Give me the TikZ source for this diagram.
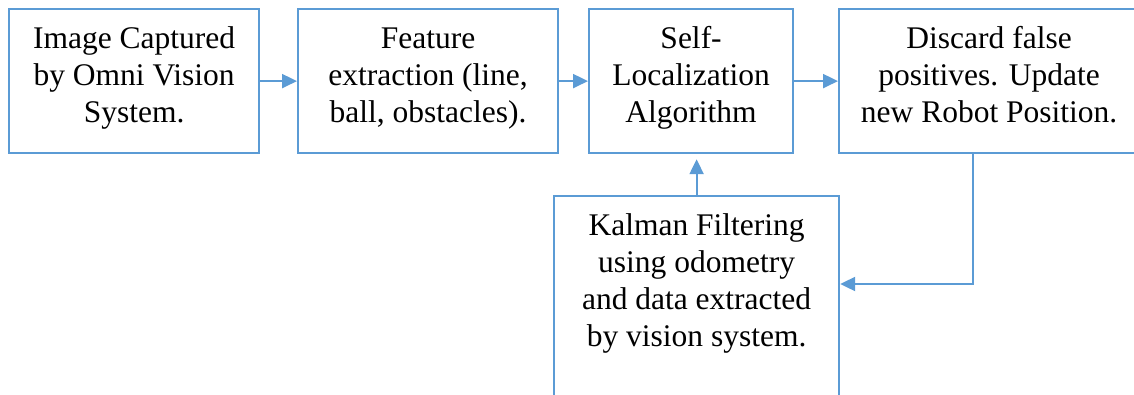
\documentclass[tikz,border=0pt]{standalone}
\usepackage{fontspec}
\setmainfont{Liberation Serif}
\usetikzlibrary{arrows.meta}
\definecolor{stageblue}{RGB}{91,155,213}
% top aligned text block of a given size
\newcommand{\stagetext}[3]{\parbox[c][#2][t]{#1}{\centering\rule{0pt}{39pt}#3}}
\tikzset{
  stage/.style={draw=stageblue, line width=2.2pt, inner sep=0pt, anchor=north west,
    font=\fontsize{31.5}{37}\selectfont},
  flow/.style={draw=stageblue, line width=2.2pt, -{Triangle[length=15pt,width=14pt]}}
}
\begin{document}
\begin{tikzpicture}[x=1pt, y=-1pt]
    \useasboundingbox (0,0) rectangle (1134,394);
    \clip (0,0) rectangle (1134,394);

    % Top row of stages
    \node[stage] (capture) at (8,8) {\stagetext{250pt}{144pt}{Image Captured\\by Omni Vision\\System.}};
    \node[stage] (feature) at (297,8) {\stagetext{260pt}{144pt}{Feature\\extraction (line,\\ball, obstacles).}};
    \node[stage] (selfloc) at (588,8) {\stagetext{204pt}{144pt}{Self-\\Localization\\Algorithm}};
    \node[stage] (update) at (838,8) {\stagetext{300pt}{144pt}{Discard false\\positives. Update\\new Robot Position.}};

    % Filter stage below
    \node[stage] (kalman) at (553,195) {\stagetext{285pt}{215pt}{Kalman Filtering\\using odometry\\and data extracted\\by vision system.}};

    % Connectors
    \draw[flow] (capture.east) -- (feature.west);
    \draw[flow] (feature.east) -- (selfloc.west);
    \draw[flow] (selfloc.east) -- (update.west);
    \draw[flow, shorten >=5pt] (kalman.north) -- (kalman.north |- selfloc.south);
    \coordinate (drop) at ([xshift=135pt]update.south west);
    \coordinate (back) at ([yshift=-89pt]kalman.north east);
    \draw[flow] (drop) |- (back);
\end{tikzpicture}
\end{document}
